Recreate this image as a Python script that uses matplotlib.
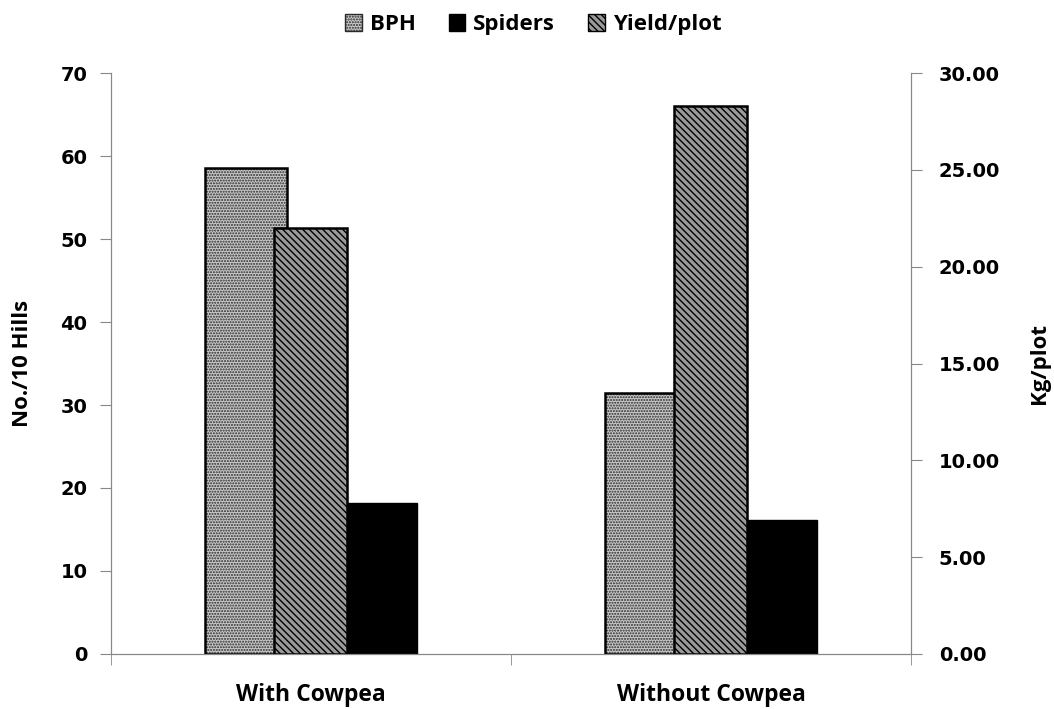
import matplotlib.pyplot as plt
import numpy as np
from matplotlib.patches import Patch

categories = ["With Cowpea", "Without Cowpea"]
bph = [58.6, 31.4]
spiders = [18.2, 16.1]
yield_plot = [22.0, 28.3]

plt.rcParams['hatch.linewidth'] = 1.0

fig = plt.figure(figsize=(10.54, 7.09), dpi=100)
ax = fig.add_axes([0.1053, 0.0776, 0.7590, 0.8194])
ax2 = ax.twinx()

x = np.arange(len(categories))

# BPH: dotted grey fill, drawn as fill + outline
ax.bar(x - 0.265, bph, width=0.206, align='edge', color='#c8c8c8',
       edgecolor='#2a2a2a', linewidth=0, hatch='......')
ax.bar(x - 0.265, bph, width=0.206, align='edge', fill=False,
       edgecolor='black', linewidth=1.8)
ax.bar(x + 0.089, spiders, width=0.175, align='edge', color='black',
       edgecolor='black', linewidth=1)
ax2.bar(x - 0.093, yield_plot, width=0.182, align='edge', color='#9a9a9a',
        edgecolor='black', linewidth=1.8, hatch='\\\\\\\\\\')

ax.set_xlim(-0.5, 1.5)
ax.set_ylim(0, 70)
ax2.set_ylim(0, 30)
ax.set_yticks(range(0, 71, 10))
ax2.set_yticks(np.arange(0, 31, 5))
ax2.set_yticklabels([f"{v:.2f}" for v in np.arange(0, 31, 5)])

ax.set_xticks(x)
ax.set_xticklabels(categories, fontsize=16.5, fontweight='bold', family='Open Sans')
ax.set_xticks([-0.5, 0.5, 1.5], minor=True)
ax.tick_params(axis='x', which='major', length=0, pad=21)
ax.tick_params(axis='x', which='minor', length=8, color='#888888')

for a in (ax, ax2):
    for s in a.spines.values():
        s.set_color('#888888')
    a.spines['top'].set_visible(False)
ax.tick_params(axis='y', length=8, color='#888888', labelsize=14, pad=9)
ax2.tick_params(axis='y', length=8, color='#888888', labelsize=14, pad=12)
for lab in ax.get_yticklabels() + ax2.get_yticklabels():
    lab.set_fontweight('bold')

ax.set_ylabel("No./10 Hills", fontsize=16, fontweight='bold', family='Open Sans')
ax2.set_ylabel("Kg/plot", fontsize=16, fontweight='bold', family='Open Sans')
ax.yaxis.set_label_coords(-0.097, 0.5)
ax2.yaxis.set_label_coords(1.147, 0.5)

handles = [
    Patch(facecolor='#c8c8c8', edgecolor='#2a2a2a', hatch='......', label='BPH'),
    Patch(facecolor='black', edgecolor='black', label='Spiders'),
    Patch(facecolor='#9a9a9a', edgecolor='black', hatch='\\\\\\\\\\', label='Yield/plot'),
]
fig.legend(handles=handles, loc='upper center', bbox_to_anchor=(0.506, 1.008), ncol=3,
           frameon=False, handlelength=0.75, handleheight=0.75, handletextpad=0.35,
           columnspacing=1.5, prop={'family': 'Open Sans', 'weight': 'bold', 'size': 16})

fig.savefig("out.png", dpi=100)
